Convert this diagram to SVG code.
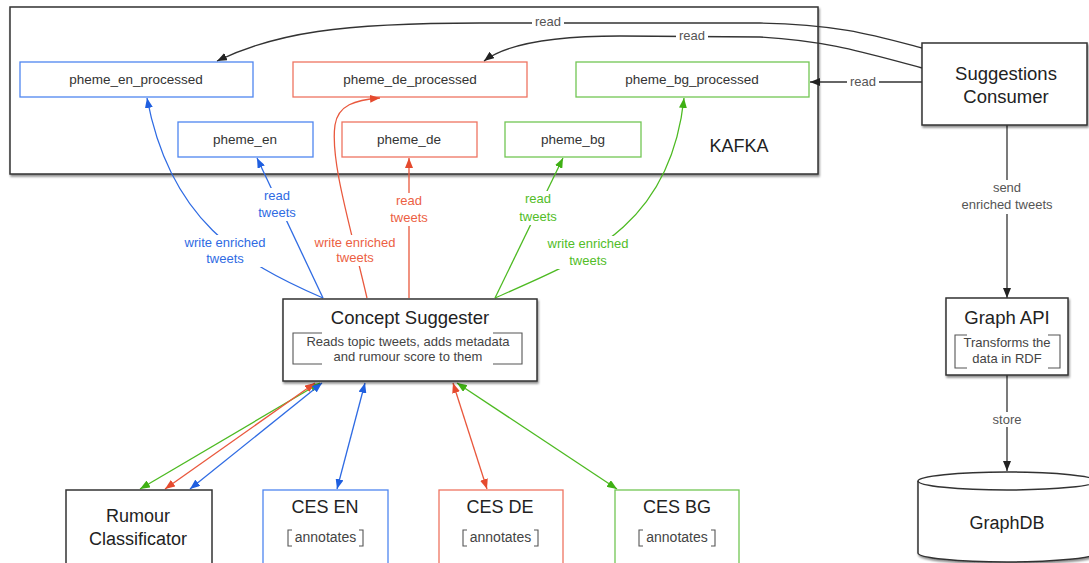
<svg xmlns="http://www.w3.org/2000/svg" width="1089" height="563" viewBox="0 0 1089 563">
<style>
text{font-family:"Liberation Sans",Arial,sans-serif;text-anchor:middle}
.box{fill:#fff;stroke:#333;stroke-width:1.5}
.sh{filter:url(#shadow)}
.blueB{fill:#fff;stroke:#4f86f0;stroke-width:1.3}
.redB{fill:#fff;stroke:#ee7461;stroke-width:1.3}
.greenB{fill:#fff;stroke:#72c654;stroke-width:1.3}
.topic{font-size:13.5px;fill:#333}
.title{font-size:18.5px;fill:#222}
.small{font-size:13px;fill:#444}
.ann{font-size:14px;fill:#444}
.brk{fill:none;stroke:#555;stroke-width:1.1}
.lbl{font-size:13px}
.bg{fill:#fff;stroke:none}
.k{fill:none;stroke:#333;stroke-width:1.3}
.b{fill:none;stroke:#2f6be3;stroke-width:1.3}
.r{fill:none;stroke:#e9583d;stroke-width:1.3}
.g{fill:none;stroke:#4dba22;stroke-width:1.3}
.tb{fill:#2f6be3}.tr{fill:#ec5f44}.tg{fill:#52bd28}.tk{fill:#555}
</style>
<defs>
<filter id="shadow" x="-5%" y="-5%" width="110%" height="115%">
<feDropShadow dx="1" dy="2" stdDeviation="1.3" flood-color="#000" flood-opacity="0.45"/>
</filter>
<marker id="ak" viewBox="0 0 10 8" refX="10" refY="4" markerWidth="10" markerHeight="8" markerUnits="userSpaceOnUse" orient="auto-start-reverse"><path d="M0,0 L10,4 L0,8 z" fill="#222"/></marker>
<marker id="ab" viewBox="0 0 10 8" refX="10" refY="4" markerWidth="10" markerHeight="8" markerUnits="userSpaceOnUse" orient="auto-start-reverse"><path d="M0,0 L10,4 L0,8 z" fill="#1f5fe0"/></marker>
<marker id="ar" viewBox="0 0 10 8" refX="10" refY="4" markerWidth="10" markerHeight="8" markerUnits="userSpaceOnUse" orient="auto-start-reverse"><path d="M0,0 L10,4 L0,8 z" fill="#e54a2e"/></marker>
<marker id="ag" viewBox="0 0 10 8" refX="10" refY="4" markerWidth="10" markerHeight="8" markerUnits="userSpaceOnUse" orient="auto-start-reverse"><path d="M0,0 L10,4 L0,8 z" fill="#3fb014"/></marker>
</defs>
<rect width="1089" height="563" fill="#fff"/>

<g id="kafka">
<rect class="box sh" x="10" y="7" width="808" height="167"/>
<text class="title" x="739" y="152" style="font-size:18px">KAFKA</text>
</g>

<g id="pheme_en_processed"><rect class="blueB" x="20" y="62" width="233" height="35"/><text class="topic" x="136" y="84">pheme_en_processed</text></g>
<g id="pheme_de_processed"><rect class="redB" x="293" y="62" width="234" height="35"/><text class="topic" x="410" y="84">pheme_de_processed</text></g>
<g id="pheme_bg_processed"><rect class="greenB" x="576" y="62" width="233" height="35"/><text class="topic" x="692" y="84">pheme_bg_processed</text></g>
<g id="pheme_en"><rect class="blueB" x="178" y="122" width="135" height="35"/><text class="topic" x="245" y="144">pheme_en</text></g>
<g id="pheme_de"><rect class="redB" x="342" y="122" width="135" height="35"/><text class="topic" x="409" y="144">pheme_de</text></g>
<g id="pheme_bg"><rect class="greenB" x="505" y="122" width="136" height="35"/><text class="topic" x="573" y="144">pheme_bg</text></g>

<g id="connectors">
<path class="k" d="M922,48 C880,37 840,24 760,23 L480,23 C340,23 275,33 217,61" marker-end="url(#ak)"/>
<rect class="bg" x="532" y="15" width="32" height="14"/>
<text class="lbl tk" x="548" y="26">read</text>
<path class="k" d="M922,68 C872,55 832,41 760,37 L620,36 C550,36 505,45 484,61" marker-end="url(#ak)"/>
<rect class="bg" x="676" y="29" width="32" height="14"/>
<text class="lbl tk" x="692" y="40">read</text>
<path class="k" d="M922,82 L810,82" marker-end="url(#ak)"/>
<rect class="bg" x="847" y="75" width="32" height="14"/>
<text class="lbl tk" x="863" y="86">read</text>

<path class="b" d="M323,298 C240,262 170,220 147,98" marker-end="url(#ab)"/>
<rect class="bg" x="179" y="235" width="92" height="32"/>
<text class="lbl tb" x="225" y="247">write enriched</text>
<text class="lbl tb" x="225" y="263">tweets</text>

<path class="b" d="M323,298 L257,158" marker-end="url(#ab)"/>
<rect class="bg" x="259" y="188" width="36" height="33"/>
<text class="lbl tb" x="277" y="200">read</text>
<text class="lbl tb" x="277" y="217">tweets</text>

<path class="r" d="M367,298 C350,225 330,160 335,125 C338,105 355,100 380,98" marker-end="url(#ar)"/>
<rect class="bg" x="309" y="235" width="92" height="31"/>
<text class="lbl tr" x="355" y="247">write enriched</text>
<text class="lbl tr" x="355" y="262">tweets</text>

<path class="r" d="M409,298 L409,158" marker-end="url(#ar)"/>
<rect class="bg" x="391" y="193" width="36" height="33"/>
<text class="lbl tr" x="409" y="205">read</text>
<text class="lbl tr" x="409" y="222">tweets</text>

<path class="g" d="M495,298 L563,158" marker-end="url(#ag)"/>
<rect class="bg" x="520" y="191" width="36" height="34"/>
<text class="lbl tg" x="538" y="203">read</text>
<text class="lbl tg" x="538" y="221">tweets</text>

<path class="g" d="M495,298 C580,260 670,230 684,98" marker-end="url(#ag)"/>
<rect class="bg" x="542" y="236" width="92" height="33"/>
<text class="lbl tg" x="588" y="248">write enriched</text>
<text class="lbl tg" x="588" y="265">tweets</text>

<path class="g" d="M320,383 L140,489" marker-start="url(#ag)" marker-end="url(#ag)"/>
<path class="r" d="M315,383 L165,489" marker-start="url(#ar)" marker-end="url(#ar)"/>
<path class="b" d="M322,383 L190,489" marker-start="url(#ab)" marker-end="url(#ab)"/>
<path class="b" d="M365,383 L337,489" marker-start="url(#ab)" marker-end="url(#ab)"/>
<path class="r" d="M453,383 L487,489" marker-start="url(#ar)" marker-end="url(#ar)"/>
<path class="g" d="M457,383 L617,489" marker-start="url(#ag)" marker-end="url(#ag)"/>

<path class="k" d="M1007,125 L1007,298" marker-end="url(#ak)"/>
<rect class="bg" x="957" y="180" width="100" height="34"/>
<text class="lbl tk" x="1007" y="192">send</text>
<text class="lbl tk" x="1007" y="209">enriched tweets</text>
<path class="k" d="M1007,375 L1007,471" marker-end="url(#ak)"/>
<rect class="bg" x="988" y="412" width="38" height="15"/>
<text class="lbl tk" x="1007" y="424">store</text>
</g>

<g id="suggestions_consumer">
<rect class="box sh" x="922" y="43" width="165" height="82"/>
<text class="title" x="1006" y="80">Suggestions</text>
<text class="title" x="1006" y="103">Consumer</text>
</g>

<g id="concept_suggester">
<rect class="box sh" x="283" y="299" width="254" height="82"/>
<text class="title" x="410" y="324">Concept Suggester</text>
<path class="brk" d="M322,333 H293 V364 H322 M493,333 H522 V364 H493"/>
<text class="small" x="408" y="346">Reads topic tweets, adds metadata</text>
<text class="small" x="408" y="361">and rumour score to them</text>
</g>

<g id="graph_api">
<rect class="box sh" x="946" y="298" width="122" height="77"/>
<text class="title" x="1007" y="324">Graph API</text>
<path class="brk" d="M967,335 H955 V368 H967 M1048,335 H1060 V368 H1048"/>
<text class="small" x="1007" y="347">Transforms the</text>
<text class="small" x="1007" y="363">data in RDF</text>
</g>

<g id="graphdb">
<path class="box sh" d="M918,481 A89,9 0 0 1 1096,481 L1096,553 A89,9 0 0 1 918,553 Z"/>
<path d="M918,481 A89,9 0 0 0 1096,481" fill="none" stroke="#333" stroke-width="1.5"/>
<text class="title" x="1007" y="529" style="font-size:18px">GraphDB</text>
</g>

<g id="rumour_classificator">
<rect class="box" x="66" y="490" width="146" height="80"/>
<text class="title" x="138" y="522" style="font-size:18px">Rumour</text>
<text class="title" x="138" y="545" style="font-size:18px">Classificator</text>
</g>

<g id="ces_en">
<rect class="blueB" x="263" y="490" width="125" height="80"/>
<text class="title" x="325" y="513" style="font-size:18px">CES EN</text>
<path class="brk" d="M292,530 H288 V546 H292 M359,530 H363 V546 H359"/>
<text class="ann" x="325.5" y="542">annotates</text>
</g>

<g id="ces_de">
<rect class="redB" x="439" y="490" width="124" height="80"/>
<text class="title" x="500" y="513" style="font-size:18px">CES DE</text>
<path class="brk" d="M467,530 H463 V546 H467 M534,530 H538 V546 H534"/>
<text class="ann" x="500.5" y="542">annotates</text>
</g>

<g id="ces_bg">
<rect class="greenB" x="615" y="490" width="124" height="80"/>
<text class="title" x="677" y="513" style="font-size:18px">CES BG</text>
<path class="brk" d="M643,530 H639 V546 H643 M711,530 H715 V546 H711"/>
<text class="ann" x="677" y="542">annotates</text>
</g>
</svg>
